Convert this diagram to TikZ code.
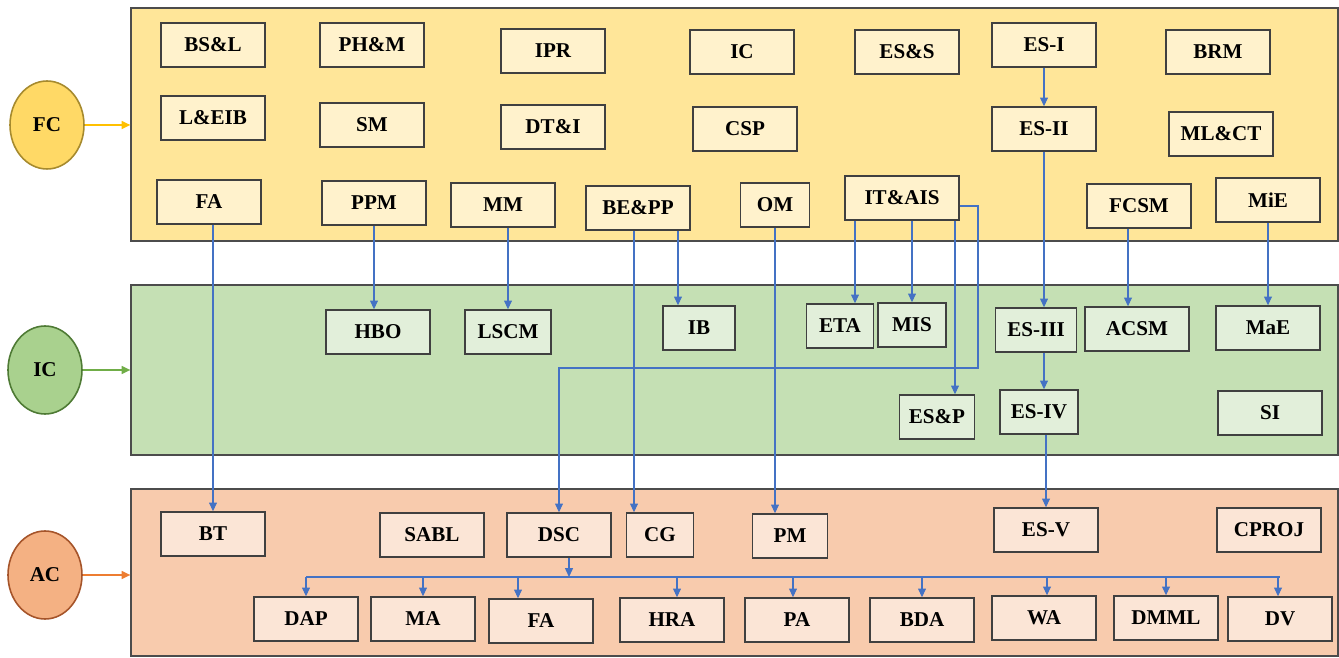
\documentclass[tikz,border=0pt]{standalone}
\usepackage{fontspec}
\setmainfont{Liberation Serif}
\usepackage{tikz}
\usetikzlibrary{calc,arrows.meta,shapes.geometric}
\definecolor{fcpanel}{HTML}{FFE699}
\definecolor{icpanel}{HTML}{C5E0B4}
\definecolor{acpanel}{HTML}{F8CBAD}
\definecolor{fcbox}{HTML}{FFF2CC}
\definecolor{icbox}{HTML}{E2EFDA}
\definecolor{acbox}{HTML}{FBE5D6}
\definecolor{fcball}{HTML}{FFD966}
\definecolor{icball}{HTML}{A9D18E}
\definecolor{acball}{HTML}{F4B183}
\definecolor{fcedge}{HTML}{A68A2E}
\definecolor{icedge}{HTML}{4E7A34}
\definecolor{acedge}{HTML}{A5542A}
\definecolor{fcarrow}{HTML}{FFC000}
\definecolor{icarrow}{HTML}{70AD47}
\definecolor{acarrow}{HTML}{ED7D31}
\definecolor{linkblue}{HTML}{4472C4}

\begin{document}
\begin{tikzpicture}[x=0.02cm,y=-0.02cm]
\tikzstyle{panel}=[draw=black!70,line width=0.8pt,inner sep=0pt,minimum width=24.14cm]
\tikzstyle{course}=[ellipse,line width=0.9pt,inner sep=0pt,minimum width=1.48cm,minimum height=1.76cm,font=\bfseries\fontsize{12}{14}\selectfont]
\tikzstyle{mod}=[draw=black!75,line width=0.8pt,inner sep=0pt,minimum width=2.08cm,minimum height=0.88cm,font=\bfseries\fontsize{12}{14}\selectfont]
\tikzstyle{fcmod}=[mod,fill=fcbox]
\tikzstyle{icmod}=[mod,fill=icbox]
\tikzstyle{acmod}=[mod,fill=acbox]
\tikzstyle{link}=[-{Triangle[length=5pt,width=4.5pt]},linkblue,line width=0.6pt]
\tikzstyle{feed}=[-{Triangle[length=5pt,width=4.5pt]},line width=1pt]
\useasboundingbox (0,0) rectangle (1339,658);

% Panels and course circles
\node (FCPANEL) [panel,fill=fcpanel,minimum height=4.66cm] at (734.5,124.5) {};
\node (ICPANEL) [panel,fill=icpanel,minimum height=3.4cm] at (734.5,370) {};
\node (ACPANEL) [panel,fill=acpanel,minimum height=3.34cm] at (734.5,572.5) {};

\node (FC) [course,fill=fcball,draw=fcedge] at (47,125) {FC};
\node (IC) [course,fill=icball,draw=icedge] at (45,370) {IC};
\node (AC) [course,fill=acball,draw=acedge] at (45,575) {AC};

\draw[feed,fcarrow] (FC.east) -- (FC.east -| FCPANEL.west);
\draw[feed,icarrow] (IC.east) -- (IC.east -| ICPANEL.west);
\draw[feed,acarrow] (AC.east) -- (AC.east -| ACPANEL.west);

% Foundation courses
\node (FCBSL) [fcmod] at (213,45) {BS\&L};
\node (FCPHM) [fcmod] at (372,45) {PH\&M};
\node (FCIPR) [fcmod] at (553,51) {IPR};
\node (FCIC) [fcmod] at (742,52) {IC};
\node (FCESS) [fcmod] at (907,52) {ES\&S};
\node (FCESI) [fcmod] at (1044,45) {ES-I};
\node (FCBRM) [fcmod] at (1218,52) {BRM};
\node (FCLEIB) [fcmod] at (213,118) {L\&EIB};
\node (FCSM) [fcmod] at (372,125) {SM};
\node (FCDTI) [fcmod] at (553,127) {DT\&I};
\node (FCCSP) [fcmod] at (745,129) {CSP};
\node (FCESII) [fcmod] at (1044,129) {ES-II};
\node (FCMLCT) [fcmod] at (1221,134) {ML\&CT};
\node (FCFA) [fcmod] at (209,202) {FA};
\node (FCPPM) [fcmod] at (374,203) {PPM};
\node (FCMM) [fcmod] at (503,205) {MM};
\node (FCBEPP) [fcmod] at (638,208) {BE\&PP};
\node (FCOM) [fcmod,minimum width=1.38cm] at (775,205) {OM};
\node (FCITAIS) [fcmod,minimum width=2.28cm] at (902,198) {IT\&AIS};
\node (FCFCSM) [fcmod] at (1139,206) {FCSM};
\node (FCMiE) [fcmod] at (1268,200) {MiE};

% Intermediate courses
\node (ICHBO) [icmod] at (378,332) {HBO};
\node (ICLSCM) [icmod,minimum width=1.72cm] at (508,332) {LSCM};
\node (ICIB) [icmod,minimum width=1.44cm] at (699,328) {IB};
\node (ICETA) [icmod,minimum width=1.34cm] at (840,326) {ETA};
\node (ICMIS) [icmod,minimum width=1.36cm] at (912,325) {MIS};
\node (ICESIII) [icmod,minimum width=1.62cm] at (1036,330) {ES-III};
\node (ICACSM) [icmod] at (1137,329) {ACSM};
\node (ICMaE) [icmod] at (1268,328) {MaE};
\node (ICESP) [icmod,minimum width=1.5cm] at (937,417) {ES\&P};
\node (ICESIV) [icmod,minimum width=1.56cm] at (1039,412) {ES-IV};
\node (ICSI) [icmod] at (1270,413) {SI};

% Advanced courses
\node (ACBT) [acmod] at (213,534) {BT};
\node (ACSABL) [acmod] at (432,535) {SABL};
\node (ACDSC) [acmod] at (559,535) {DSC};
\node (ACCG) [acmod,minimum width=1.34cm] at (660,535) {CG};
\node (ACPM) [acmod,minimum width=1.5cm] at (790,536) {PM};
\node (ACESV) [acmod] at (1046,530) {ES-V};
\node (ACCPROJ) [acmod] at (1269,530) {CPROJ};
\node (ACDAP) [acmod] at (306,619) {DAP};
\node (ACMA) [acmod] at (423,619) {MA};
\node (ACFA) [acmod] at (541,621) {FA};
\node (ACHRA) [acmod] at (672,620) {HRA};
\node (ACPA) [acmod] at (797,620) {PA};
\node (ACBDA) [acmod] at (922,620) {BDA};
\node (ACWA) [acmod] at (1044,618) {WA};
\node (ACDMML) [acmod] at (1166,618) {DMML};
\node (ACDV) [acmod] at (1280,619) {DV};

% Prerequisite links
\draw[link] (FCESI.south) -- (FCESII.north);
\draw[link] (FCESII.south) -- (FCESII.south |- ICESIII.north);
\draw[link] (ICESIII.south -| FCESII.south) -- (ICESIV.north -| FCESII.south);
\draw[link] (ICESIV.south -| ACESV.north) -- (ACESV.north);
\draw[link] (FCFA.south -| ACBT.north) -- (ACBT.north);
\draw[link] (FCPPM.south) -- (FCPPM.south |- ICHBO.north);
\draw[link] (FCMM.south -| ICLSCM.north) -- (ICLSCM.north);
\coordinate (BEIB) at ($(FCBEPP.south)+(40,0)$);
\draw[link] (BEIB) -- (BEIB |- ICIB.north);
\coordinate (BECG) at ($(FCBEPP.south)+(-4,0)$);
\draw[link] (BECG) -- (BECG |- ACCG.north);
\draw[link] (FCOM.south) -- (FCOM.south |- ACPM.north);
\coordinate (ITETA) at ($(FCITAIS.south)+(-47,0)$);
\draw[link] (ITETA) -- (ITETA |- ICETA.north);
\draw[link] (FCITAIS.south -| ICMIS.north) -- (ICMIS.north);
\coordinate (ITESP) at ($(FCITAIS.south)+(53,0)$);
\draw[link] (ITESP) -- (ITESP |- ICESP.north);
\coordinate (ITOUT) at ($(FCITAIS.east)+(0,8)$);
\coordinate (ITBEND) at (978,368);
\draw[link] (ITOUT) -| (ITBEND) -| (ACDSC.north);
\coordinate (FCACS) at ($(FCFCSM.south)+(-11,0)$);
\draw[link] (FCACS) -- (FCACS |- ICACSM.north);
\draw[link] (FCMiE.south) -- (FCMiE.south |- ICMaE.north);

% Data science bus
\coordinate (BUS) at (0,577);
\coordinate (DSCOUT) at ($(ACDSC.south)+(10,0)$);
\draw[link] (DSCOUT) -- (DSCOUT |- BUS);
\draw[linkblue,line width=0.9pt] (ACDAP.north |- BUS) -- (ACDV.north |- BUS);
\foreach \n/\dx in {ACDAP/0,ACMA/0,ACFA/-23,ACHRA/5,ACPA/-4,ACBDA/0,ACWA/3,ACDMML/0,ACDV/-2}
{
  \coordinate (TIP) at ($(\n.north)+(\dx,0)$);
  \draw[link] (TIP |- BUS) -- (TIP);
}

\end{tikzpicture}
\end{document}
